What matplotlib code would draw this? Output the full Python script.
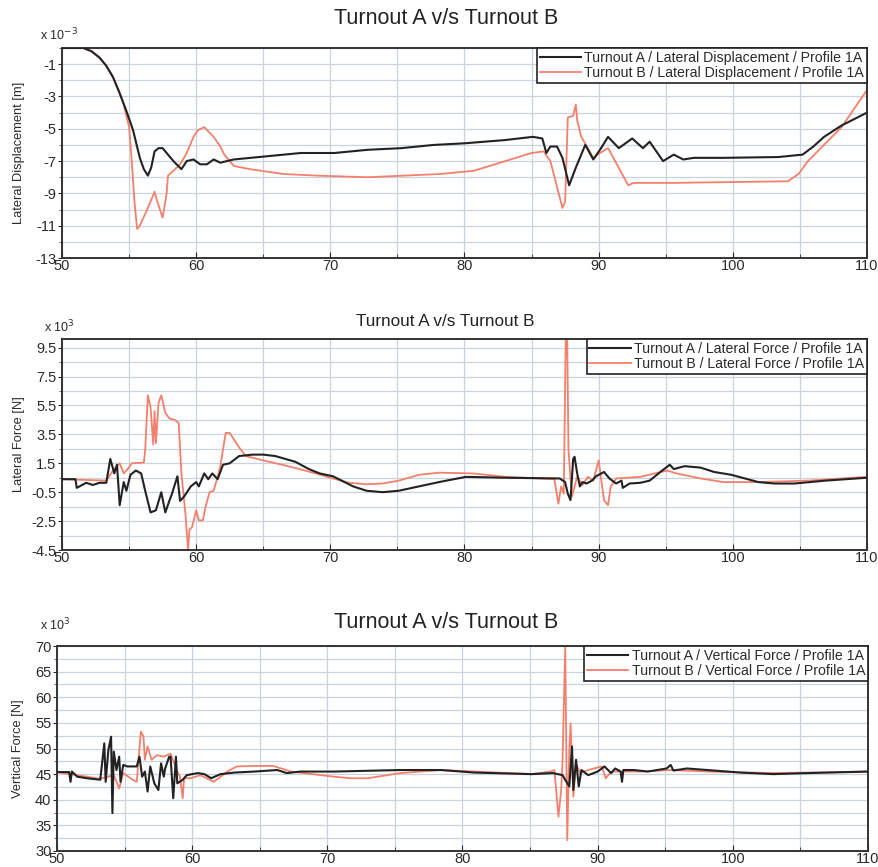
import matplotlib
matplotlib.use("Agg")
import matplotlib.pyplot as plt
from matplotlib.ticker import MultipleLocator, FixedLocator

plt.rcParams['font.family'] = ['Liberation Sans', 'DejaVu Sans']

# ---------------- data ----------------
title = "Turnout A v/s Turnout B"

# Panel 1: lateral displacement (x 1e-3 m)
disp_a_x = [50, 51.6, 52.2, 52.8, 53.3, 53.8, 54.3, 54.8, 55.3, 55.8, 56.1, 56.4, 56.65, 56.9,
            57.2, 57.5, 57.9, 58.3, 58.9, 59.3, 59.8,
            60.3, 60.8, 61.3, 61.8, 62.8, 65.3, 67.8, 70.3, 72.8, 75.3, 77.7, 80.0, 83.0, 85.1,
            85.8, 86.1, 86.4, 86.9, 87.3, 87.8, 88.3, 89.0, 89.6, 90.1, 90.7, 91.5, 92.5, 93.3,
            93.8, 94.8, 95.6, 96.3, 97.1, 99.3, 103.4, 105.2, 106.0, 106.8, 108.1, 110]
disp_a_y = [0, 0, -0.2, -0.6, -1.1, -1.8, -2.8, -3.9, -5.1, -6.8, -7.5, -7.9, -7.4, -6.4,
            -6.2, -6.2, -6.6, -7.0, -7.5, -7.0, -6.9,
            -7.2, -7.2, -6.9, -7.1, -6.9, -6.7, -6.5, -6.5, -6.3, -6.2, -6.0, -5.9, -5.7, -5.5,
            -5.6, -6.5, -6.1, -6.1, -6.8, -8.5, -7.4, -6.0, -6.9, -6.3, -5.5, -6.2, -5.6, -6.2,
            -5.8, -7.0, -6.6, -6.9, -6.8, -6.8, -6.75, -6.6, -6.1, -5.5, -4.8, -4.0]
disp_b_x = [50, 51.6, 52.2, 52.8, 53.3, 53.8, 54.2, 54.6, 55.0, 55.2, 55.4, 55.6, 55.8, 56.4,
            56.9, 57.1, 57.5, 57.8, 57.9, 58.3, 58.8, 59.3, 59.8, 60.1, 60.6, 61.3, 61.8, 62.1,
            62.8, 64.0, 66.5, 69.0, 72.8, 78.2,
            80.7, 85.0, 85.9, 86.4, 87.3, 87.5, 87.7, 88.1, 88.3, 88.4, 88.7, 89.2, 89.6, 90.1,
            90.7, 91.1, 92.2, 92.6, 95.6, 104.1, 104.9, 105.6, 108.1, 110]
disp_b_y = [0, 0, -0.2, -0.6, -1.1, -1.8, -2.6, -3.5, -4.9, -7.0, -9.5, -11.2, -11.0, -9.9,
            -8.9, -9.5, -10.5, -9.0, -7.9, -7.6, -7.2, -6.5, -5.5, -5.1, -4.9, -5.5, -6.1, -6.6,
            -7.3, -7.5, -7.8, -7.9, -8.0, -7.8,
            -7.6, -6.5, -6.4, -7.0, -9.9, -9.5, -4.3, -4.2, -3.5, -4.5, -5.5, -6.2, -6.8, -6.5,
            -6.2, -6.8, -8.5, -8.35, -8.35, -8.25, -7.8, -7.0, -4.9, -2.6]

# Panel 2: lateral force (x 1e3 N)
lat_a_x = [50, 51.0, 51.1, 51.8, 52.3, 52.8, 53.3, 53.6, 53.9, 54.1, 54.3, 54.6, 54.8, 55.1,
           55.5, 55.9, 56.2, 56.6, 57.0, 57.4, 57.7, 58.0, 58.2, 58.6, 58.8, 59.1, 59.6, 60.0,
           60.2, 60.6, 60.9, 61.2, 61.6, 62.0, 62.5, 63.2, 64.2, 65.0, 65.9, 67.4, 68.4, 69.2,
           70.2, 71.7, 72.7, 73.9, 75.1, 77.1, 78.1, 80.1, 83.1, 87.1, 87.5, 87.7, 87.9, 88.1,
           88.2, 88.4, 88.6, 88.8, 89.1, 89.5, 89.8, 90.4, 90.8, 91.3, 91.7, 91.8, 92.3, 93.1,
           93.8, 94.6, 95.3, 95.6, 96.4, 97.6, 98.6, 99.9, 101.9, 103.1, 104.6, 106.9, 110]
lat_a_y = [0.4, 0.4, -0.2, 0.15, 0.0, 0.15, 0.15, 1.8, 0.8, 1.4, -1.4, 0.2, -0.4, 0.7,
           1.0, 0.8, -0.4, -1.9, -1.75, -0.5, -1.9, -1.1, -0.6, 0.6, -1.1, -0.8, -0.1, 0.2,
           -0.1, 0.8, 0.4, 0.8, 0.4, 1.4, 1.5, 2.0, 2.1, 2.1, 2.0, 1.6, 1.1, 0.8,
           0.6, -0.1, -0.4, -0.5, -0.4, 0.0, 0.2, 0.56, 0.5, 0.45, 0.2, -0.6, -1.05, 1.8,
           1.95, 0.8, -0.1, 0.2, 0.1, 0.3, 0.6, 0.9, 0.45, 0.1, 0.3, -0.2, 0.1, 0.15,
           0.3, 0.9, 1.4, 1.1, 1.3, 1.2, 0.9, 0.7, 0.2, 0.1, 0.1, 0.3, 0.5]
lat_b_x = [50, 53.3, 53.8, 54.3, 54.6, 54.9, 55.2, 56.1, 56.2, 56.4, 56.6, 56.8, 56.9, 57.0,
           57.2, 57.4, 57.7, 58.0, 58.4, 58.7, 58.9, 59.2, 59.4, 59.5, 59.7, 60.0, 60.2, 60.5,
           60.7, 61.0, 61.3, 61.6, 61.8, 62.2, 62.5, 63.2, 63.7, 65.0, 66.4, 67.7, 68.9, 70.2,
           71.4, 72.7, 73.9, 75.1, 76.6, 78.1, 80.6, 83.1, 86.7, 87.0, 87.2, 87.4, 87.55, 87.65,
           87.75, 88.0, 88.4, 88.8, 89.2, 89.6, 90.0, 90.2, 90.4, 90.7, 90.9, 91.3, 93.1, 95.1,
           95.8, 97.6, 99.3, 101.9, 105.6, 110]
lat_b_y = [0.4, 0.3, 1.0, 1.5, 0.8, 1.1, 1.5, 1.55, 2.4, 6.2, 5.4, 2.8, 5.1, 2.9,
           5.7, 6.2, 5.0, 4.6, 4.5, 4.3, 0.8, -2.0, -4.5, -3.1, -2.9, -1.75, -2.45, -2.45,
           -1.5, -0.5, -0.4, 0.56, 1.3, 3.6, 3.6, 2.6, 2.0, 1.7, 1.4, 1.1, 0.8, 0.45,
           0.15, 0.05, 0.1, 0.3, 0.7, 0.85, 0.8, 0.56, 0.4, -1.3, -0.1, -0.6, 10.5, 10.5,
           2.4, -0.8, 0.56, 0.0, 0.56, 0.3, 1.7, 0.3, -1.05, -1.4, -0.1, 0.45, 0.56, 1.0,
           0.8, 0.45, 0.2, 0.2, 0.3, 0.56]

# Panel 3: vertical force (x 1e3 N)
vert_a_x = [50, 50.9, 51.0, 51.1, 51.5, 52.2, 53.2, 53.5, 53.6, 53.8, 54.0, 54.1, 54.2, 54.4,
            54.6, 54.7, 54.9, 55.2, 55.9, 56.1, 56.3, 56.5, 56.7, 56.9, 57.2, 57.5, 57.7, 57.9,
            58.0, 58.3, 58.4, 58.6, 58.8, 58.9, 59.3, 59.6, 60.4, 60.9, 61.4, 62.1, 63.1, 64.6,
            66.3, 67.0, 68.0, 70.5, 75.4, 78.4, 80.9, 85.1, 86.7, 87.4, 87.6, 87.9, 88.1, 88.2,
            88.4, 88.6, 88.8, 89.3, 90.0, 90.5, 91.0, 91.3, 91.7, 91.8, 91.9, 92.7, 93.7, 95.1,
            95.4, 95.6, 96.6, 98.1, 100.6, 103.0, 105.5, 110]
vert_a_y = [45.4, 45.4, 43.5, 45.5, 44.5, 44.2, 43.9, 51.0, 43.5, 49.7, 52.3, 37.4, 49.4, 45.8,
            48.4, 43.5, 46.8, 46.5, 46.5, 48.4, 44.5, 45.5, 41.6, 46.5, 43.2, 41.9, 47.1, 44.5,
            46.1, 48.4, 48.4, 40.3, 48.4, 43.2, 43.9, 44.8, 45.2, 45.0, 44.2, 45.0, 45.3, 45.5,
            45.8, 45.2, 45.5, 45.5, 45.8, 45.8, 45.3, 45.0, 45.2, 44.8, 43.9, 42.6, 50.4, 41.9,
            47.8, 42.6, 45.8, 44.8, 45.5, 46.5, 45.2, 46.1, 45.5, 43.5, 45.8, 45.8, 45.5, 46.1,
            46.8, 45.7, 46.1, 45.8, 45.3, 45.0, 45.2, 45.5]
vert_b_x = [50, 53.2, 54.2, 54.6, 54.9, 55.6, 55.9, 56.2, 56.4, 56.5, 56.7, 57.0, 57.4, 57.9,
            58.4, 58.9, 59.1, 59.3, 59.4, 59.9, 60.6, 61.6, 62.6, 63.3, 64.6, 66.0, 67.3, 70.5,
            71.7, 73.0, 75.4, 78.4, 80.9, 85.1, 86.5, 86.8, 87.1, 87.3, 87.4, 87.6, 87.75, 87.9,
            88.0, 88.2, 88.4, 88.7, 89.3, 90.3, 90.6, 91.0, 91.7, 93.2, 95.4, 98.1, 103.0, 110]
vert_b_y = [45.4, 44.1, 44.8, 42.2, 45.2, 43.9, 43.5, 53.3, 52.3, 47.8, 50.4, 47.8, 48.7, 48.4,
            49.0, 45.5, 44.5, 40.3, 44.2, 44.2, 44.8, 43.5, 45.5, 46.5, 46.6, 46.6, 45.5, 44.5,
            44.2, 44.2, 45.2, 45.8, 45.5, 45.0, 45.5, 45.8, 36.7, 41.9, 47.4, 69.9, 32.1, 49.7,
            54.9, 40.6, 47.1, 45.2, 45.8, 46.5, 44.2, 45.5, 45.5, 45.5, 45.8, 45.5, 45.2, 45.5]

legend_a = ["Turnout A / Lateral Displacement / Profile 1A",
            "Turnout A / Lateral Force / Profile 1A",
            "Turnout A / Vertical Force / Profile 1A"]
legend_b = ["Turnout B / Lateral Displacement / Profile 1A",
            "Turnout B / Lateral Force / Profile 1A",
            "Turnout B / Vertical Force / Profile 1A"]
ylabels = ["Lateral Displacement [m]", "Lateral Force [N]", "Vertical Force [N]"]
multipliers = [r"x 10$^{-3}$", r"x 10$^{3}$", r"x 10$^{3}$"]

# ---------------- styling ----------------
W, H = 879, 867
fig = plt.figure(figsize=(W / 100, H / 100), dpi=100)
col_a = "#222222"
col_b = "#f2806c"
grid_col = "#c9d3de"
txt_col = "#2a2a2a"

# axes rects in pixel coordinates (left, top, right, bottom)
rects = [(62, 48, 867, 258), (62, 339, 867, 550), (57, 646, 868, 851)]
ylims = [(-13, 0), (-4.5, 10.1), (30, 70)]
ymajor = [[-1, -3, -5, -7, -9, -11, -13],
          [9.5, 7.5, 5.5, 3.5, 1.5, -0.5, -2.5, -4.5],
          [70, 65, 60, 55, 50, 45, 40, 35, 30]]
ygrid_step = [1.0, 1.0, 2.5]
ygrid_start = [-13, -4.5, 30]
title_y = [18, 322, 622]
title_size = [15.5, 12.3, 15.5]
mult_pos = [(40, 35), (44, 327), (40, 625)]
ylabel_x = [25, 25, 24]

series = [(disp_a_x, disp_a_y, disp_b_x, disp_b_y),
          (lat_a_x, lat_a_y, lat_b_x, lat_b_y),
          (vert_a_x, vert_a_y, vert_b_x, vert_b_y)]

for i in range(3):
    l, t, r, b = rects[i]
    ax = fig.add_axes([l / W, 1 - b / H, (r - l) / W, (b - t) / H])
    ax_x, ax_y, bx, by = series[i]
    ylo, yhi = ylims[i]
    gy = []
    v = ygrid_start[i]
    while v <= yhi + 1e-9:
        gy.append(v)
        v += ygrid_step[i]

    lb, = ax.plot(bx, by, color=col_b, lw=1.3, label=legend_b[i], zorder=2)
    la, = ax.plot(ax_x, ax_y, color=col_a, lw=1.5, label=legend_a[i], zorder=3)

    ax.set_xlim(50, 110)
    ax.set_ylim(ylo, yhi)
    ax.xaxis.set_major_locator(MultipleLocator(10))
    ax.xaxis.set_minor_locator(MultipleLocator(5))
    ax.yaxis.set_major_locator(FixedLocator(ymajor[i]))
    ax.yaxis.set_minor_locator(FixedLocator(gy))
    ax.set_yticklabels([("%g" % v) for v in ymajor[i]])
    ax.set_axisbelow(True)
    ax.grid(True, which='both', color=grid_col, lw=0.9)
    ax.tick_params(axis='x', which='both', direction='in', labelsize=10.5,
                   colors=txt_col, length=4, pad=1)
    ax.tick_params(axis='x', which='minor', length=3)
    ax.tick_params(axis='y', which='major', direction='out', labelsize=10.5,
                   colors=txt_col, length=3, pad=1)
    ax.tick_params(axis='y', which='minor', direction='out', length=2, colors="#555555")
    for s in ax.spines.values():
        s.set_color("#333333")
        s.set_linewidth(1.4)

    ax.set_ylabel(ylabels[i], fontsize=9.3, color=txt_col)
    ax.yaxis.set_label_coords((ylabel_x[i] - l) / (r - l), 0.5)

    leg = ax.legend(handles=[la, lb], loc='upper right', fontsize=10.2,
                    frameon=True, fancybox=False, borderaxespad=0, handlelength=2.9,
                    handletextpad=0.25, borderpad=0.2, labelspacing=0.1)
    leg.get_frame().set_edgecolor("#222222")
    leg.get_frame().set_linewidth(1.2)
    leg.get_frame().set_alpha(1)
    for tx in leg.get_texts():
        tx.set_color(txt_col)

    fig.text(0.507, 1 - title_y[i] / H, title, ha='center', va='center',
             fontsize=title_size[i], color="#222222")
    mx, my = mult_pos[i]
    fig.text(mx / W, 1 - my / H, multipliers[i], ha='left', va='center',
             fontsize=9, color=txt_col)

fig.savefig("out.png", dpi=100, facecolor="white")
